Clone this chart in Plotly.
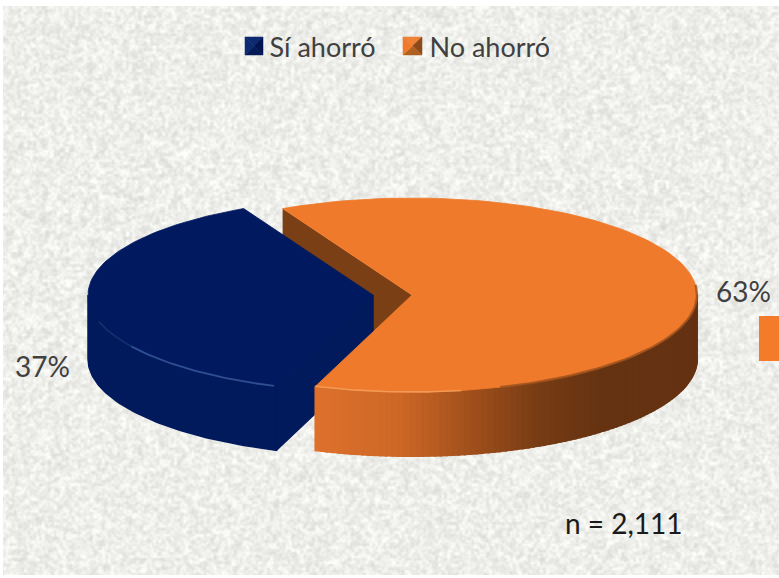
import base64, struct, zlib
import numpy as np
import plotly.graph_objects as go

# ---- data ----
categories = ["Sí ahorró", "No ahorró"]
percent_values = [37, 63]
top_colors = ["#011A5F", "#EF7A2B"]
sample_label = "n = 2,111"

W, H = 779, 578
FONT = "Lato, Carlito, Calibri, sans-serif"


# ---- decorative stone texture (not data) ----
def texture(w, h):
    yy, xx = np.mgrid[0:h, 0:w].astype(float)
    def hash_noise(sx, sy, off):
        gx, gy = np.floor(xx / sx), np.floor(yy / sy)
        v = np.sin(gx * 12.9898 + gy * 78.233 + off) * 43758.5453
        return v - np.floor(v)
    def blur(a, n=2):
        for _ in range(n):
            a = (a + np.roll(a, 1, 0) + np.roll(a, -1, 0) + np.roll(a, 1, 1) + np.roll(a, -1, 1)) / 5
        return a
    n1 = blur(hash_noise(3, 3, 1.3), 3)
    n2 = blur(hash_noise(2, 2, 4.1), 1)
    n = 0.65 * (n1 - n1.mean()) / n1.std() + 0.35 * (n2 - n2.mean()) / n2.std()
    g = np.clip(238 + 8.5 * n, 205, 253)
    rgb = np.stack([g, g, g - 3], -1).astype(np.uint8)
    rgb[:6, :] = 255
    rgb[:, :3] = 255
    rgb[-3:, :] = 255
    raw = b"".join(b"\x00" + rgb[i].tobytes() for i in range(h))
    def chunk(t, d):
        return struct.pack(">I", len(d)) + t + d + struct.pack(">I", zlib.crc32(t + d))
    png = b"\x89PNG\r\n\x1a\n" + chunk(b"IHDR", struct.pack(">IIBBBBB", w, h, 8, 2, 0, 0, 0)) \
        + chunk(b"IDAT", zlib.compress(raw, 9)) + chunk(b"IEND", b"")
    return "data:image/png;base64," + base64.b64encode(png).decode()


# ---- projected pie geometry, driven by the values ----
RX, RY, DEPTH = 285.0, 97.0, 64.0
CY = 295.0
CX_BLUE, CX_ORANGE = 373.0, 412.0
START = 117.0
blue_span = percent_values[0] / sum(percent_values) * 360
orange_span = percent_values[1] / sum(percent_values) * 360
b0, b1 = START, START + blue_span          # counter-clockwise
o0, o1 = START - orange_span, START


def rim(cx, a0, a1, n=120, dy=0.0):
    t = np.radians(np.linspace(a0, a1, n))
    return cx + RX * np.cos(t), CY - RY * np.sin(t) + dy


def poly(x, y, color, width=0.0):
    return go.Scatter(x=list(x) + [x[0]], y=list(y) + [y[0]], mode="lines", fill="toself",
                      fillcolor=color, line=dict(color=color, width=width),
                      hoverinfo="skip", showlegend=False)


def sector(cx, a0, a1, color):
    x, y = rim(cx, a0, a1)
    return poly(np.r_[cx, x], np.r_[CY, y], color, 0.8)


def lerp_color(x, xs, cols):
    c = [int(round(np.interp(x, xs, [k[i] for k in cols]))) for i in range(3)]
    return "rgb(%d,%d,%d)" % tuple(c)


def outer_wall(cx, a0, a1, shade, n=70):
    out = []
    edges = np.linspace(a0, a1, n + 1)
    for e0, e1 in zip(edges[:-1], edges[1:]):
        x, y = rim(cx, e0, e1, 4)
        col = shade(float(x.mean()))
        out.append(poly(np.r_[x, x[::-1]], np.r_[y, y[::-1] + DEPTH], col, 2.0))
    return out


def cut_wall(cx, angle, color, width=0.0):
    x, y = rim(cx, angle, angle, 1)
    px = [x[0], cx, cx, x[0]]
    py = [y[0], CY, CY + DEPTH, y[0] + DEPTH]
    return poly(px, py, color, width)


def rim_line(cx, a0, a1, color, width):
    x, y = rim(cx, a0, a1, 50)
    return go.Scatter(x=x, y=y, mode="lines", line=dict(color=color, width=width),
                      hoverinfo="skip", showlegend=False)


orange_stops_x = [316, 400, 470, 540, 600, 700]
orange_stops_c = [(222, 112, 44), (205, 104, 38), (162, 80, 28), (118, 60, 20), (102, 51, 18), (100, 50, 18)]

fig = go.Figure()

# legend entries first (the bevelled swatches are drawn as shapes below)
for name in categories:
    fig.add_trace(go.Scatter(x=[None], y=[None], mode="markers", name=name,
                             marker=dict(symbol="square", size=1, color="rgba(0,0,0,0)")))

# inner cut of the orange slice (partly hidden by the blue slice)
fig.add_trace(cut_wall(CX_ORANGE, o1, "#7A3F14"))
fig.add_trace(cut_wall(CX_ORANGE, o0, "#7A3F14"))

# blue slice: same-coloured outlines close the seams between its faces
BLUE_WALL = "#011A5C"
fig.add_trace(cut_wall(CX_BLUE, b1, BLUE_WALL, 1.5))
wx, wy = rim(CX_BLUE, 180, b1, 80)
fig.add_trace(poly(np.r_[wx, wx[::-1]], np.r_[wy, wy[::-1] + DEPTH], BLUE_WALL, 1.5))
fig.add_trace(sector(CX_BLUE, b0, b1, top_colors[0]))
fig.add_trace(rim_line(CX_BLUE, 196, 212, "#14316F", 1.6))
fig.add_trace(rim_line(CX_BLUE, 212, b1 - 0.5, "#2F4F92", 1.8))

# orange slice
fig.add_traces(outer_wall(CX_ORANGE, o0, 0, lambda x: lerp_color(x, orange_stops_x, orange_stops_c), 90))
fig.add_trace(sector(CX_ORANGE, o0, o1, top_colors[1]))
fig.add_trace(rim_line(CX_ORANGE, -72, 6, "rgba(150,78,28,0.75)", 2.4))
fig.add_trace(rim_line(CX_ORANGE, o0, -80, "#F39A55", 1.6))

annotations = [
    dict(x=743, y=291, text=f"{percent_values[1]}%", font=dict(size=28, color="#404040")),
    dict(x=42, y=366, text=f"{percent_values[0]}%", font=dict(size=28, color="#404040")),
    dict(x=624, y=523, text=sample_label, font=dict(size=28, color="#1a1a1a")),
]
for a in annotations:
    a.update(xref="x", yref="y", showarrow=False, xanchor="center", yanchor="middle")


def swatch(x0, x1, y0, y1, faces):
    xm, ym = (x0 + x1) / 2, (y0 + y1) / 2
    corners = [(x0, y0), (x1, y0), (x1, y1), (x0, y1)]
    out = []
    for i, col in enumerate(faces):
        a, b = corners[i], corners[(i + 1) % 4]
        out.append(dict(type="path", xref="x", yref="y", fillcolor=col, line=dict(color=col, width=0.5),
                        path=f"M {a[0]} {a[1]} L {b[0]} {b[1]} L {xm} {ym} Z"))
    return out


shapes = [dict(type="rect", xref="x", yref="y", x0=759, x1=W, y0=316, y1=361,
               fillcolor="#F47B2A", line=dict(width=0))]
shapes += swatch(245, 263, 37, 55, ["#0B2A72", "#031550", "#041A58", "#0B2A72"])
shapes += swatch(403, 422, 37, 55, ["#EE8238", "#8C4A1A", "#B0601F", "#F07A2A"])

fig.update_layout(
    width=W, height=H, margin=dict(l=0, r=0, t=0, b=0),
    autosize=False,
    paper_bgcolor="#EEEEEA", plot_bgcolor="rgba(0,0,0,0)",
    font=dict(family=FONT, size=27, color="#404040"),
    xaxis=dict(range=[0, W], visible=False, fixedrange=True),
    yaxis=dict(range=[H, 0], visible=False, fixedrange=True),
    showlegend=True,
    legend=dict(orientation="h", x=0.5, xanchor="center", y=0.919, yanchor="middle",
                bgcolor="rgba(0,0,0,0)", font=dict(size=27, color="#404040"),
                itemsizing="trace", itemwidth=30, traceorder="normal",
                entrywidth=115, entrywidthmode="pixels"),
    annotations=annotations,
    shapes=shapes,
    images=[dict(source=texture(W, H), xref="paper", yref="paper", x=0, y=1, sizex=1, sizey=1,
                 xanchor="left", yanchor="top", sizing="stretch", layer="below")],
)

fig.write_html("out.html", config=dict(displayModeBar=False),
               post_script="document.body.style.margin='0';document.body.style.overflow='hidden';")
